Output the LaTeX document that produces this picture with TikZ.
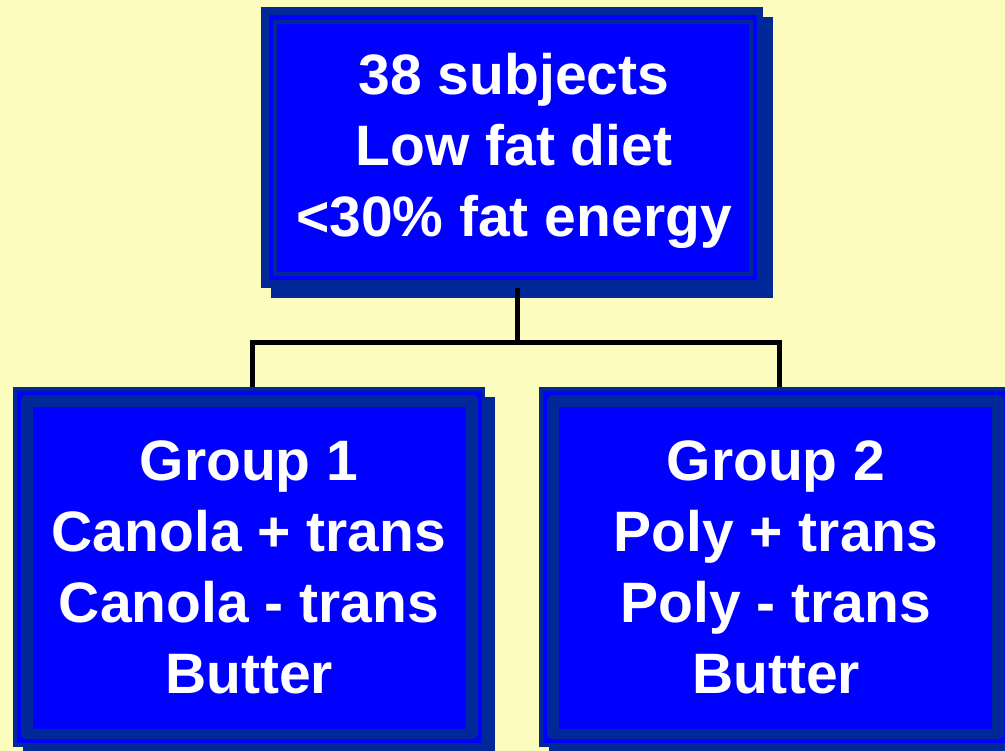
\documentclass[tikz,border=0pt]{standalone}
\usepackage{fontspec}
\setmainfont{Liberation Sans}
\definecolor{bg}{RGB}{252,252,190}
\definecolor{dkblue}{RGB}{0,40,153}
\definecolor{brblue}{RGB}{0,0,255}
\tikzset{
  boxtext/.style={text=white, font=\bfseries\fontsize{57}{71}\selectfont, align=center, inner sep=0pt},
  anchorbox/.style={inner sep=0pt, outer sep=0pt, draw=none},
  conn/.style={draw=black, line width=5pt}
}
\begin{document}
\begin{tikzpicture}[x=1pt,y=-1pt]
\useasboundingbox (0,0) rectangle (1005,751);
\clip (0,0) rectangle (1005,751);
\fill[bg] (0,0) rectangle (1005,751);

% ---- top box ----
\fill[dkblue] (271,17) rectangle (773,298);
\fill[dkblue] (261,7) rectangle (763,288);
\fill[brblue] (269,15) rectangle (757,280);
\fill[dkblue] (273,20) rectangle (753,276);
\fill[brblue] (277,24) rectangle (749,272);
\node[anchorbox, minimum width=502pt, minimum height=281pt] (topbox) at (512,147.5) {};
\node[boxtext] (toptext) at (514,151) {38 subjects\\Low fat diet\\<30\% fat energy};

% ---- bottom left box ----
\fill[dkblue] (23,397) rectangle (495,757);
\fill[dkblue] (13,387) rectangle (485,747);
\fill[brblue] (17,391) rectangle (482,743);
\fill[dkblue, rounded corners=5pt] (21,395) rectangle (478,739);
\fill[brblue] (33,407) rectangle (466,729);
\node[anchorbox, minimum width=472pt, minimum height=360pt] (leftbox) at (249,567) {};
\node[boxtext] (lefttext) at (249,567) {Group 1\\Canola + trans\\Canola - trans\\Butter};

% ---- bottom right box ----
\fill[dkblue] (549,397) rectangle (1021,757);
\fill[dkblue] (539,387) rectangle (1011,747);
\fill[brblue] (543,391) rectangle (1008,743);
\fill[dkblue, rounded corners=5pt] (547,395) rectangle (1004,739);
\fill[brblue] (559,407) rectangle (992,729);
\node[anchorbox, minimum width=472pt, minimum height=360pt] (rightbox) at (775,567) {};
\node[boxtext] (righttext) at (776,567) {Group 2\\Poly + trans\\Poly - trans\\Butter};

% ---- connectors ----
\coordinate (jn) at (517.5,342.5);
\coordinate (jl) at (252,342.5);
\coordinate (jr) at (779.5,342.5);
\draw[conn] (topbox.south -| jn) -- (jn);
\draw[conn, line cap=rect] (jl) -- (jr);
\draw[conn] (jl) -- (leftbox.north -| jl);
\draw[conn] (jr) -- (rightbox.north -| jr);
\end{tikzpicture}
\end{document}
